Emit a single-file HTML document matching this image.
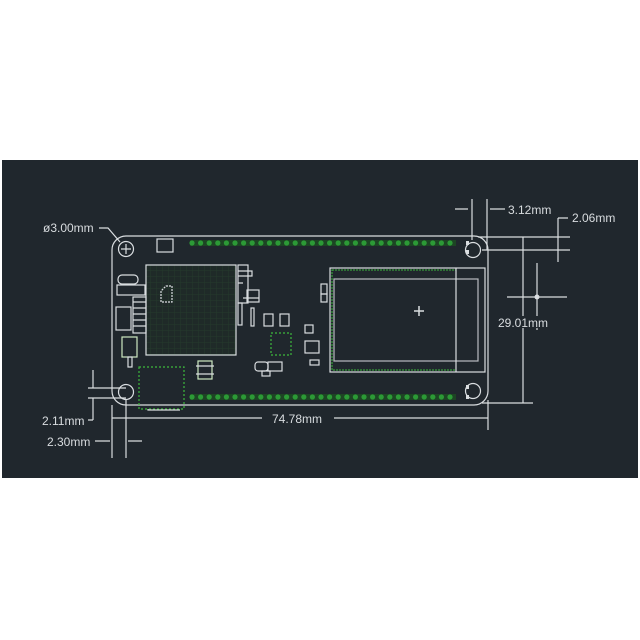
<!DOCTYPE html>
<html><head><style>
html,body{margin:0;padding:0;background:#fff;}
svg{display:block}
text{font-family:"Liberation Sans",sans-serif;font-size:12px;fill:#d8dcdf;}
</style></head><body>
<svg width="640" height="640" viewBox="0 0 640 640">
<rect x="0" y="0" width="640" height="640" fill="#fff"/>
<rect x="2" y="160" width="636" height="318" fill="#20272d"/>
<defs>
<pattern id="g" width="6" height="6" patternUnits="userSpaceOnUse"><rect width="6" height="6" fill="#1f2a28"/><path d="M0 0H6M0 0V6" stroke="#243a2c" stroke-width="1"/></pattern>
</defs>
<g stroke="#d9dde0" stroke-width="1.2" fill="none">
<path d="M126 236 H474 A14 14 0 0 1 488 250 V391 A14 14 0 0 1 474 405 H126 A14 14 0 0 1 112 391 V250 A14 14 0 0 1 126 236 Z"/>
<circle cx="126" cy="249" r="7.5"/><path d="M121 249h10M126 244v10"/>
<circle cx="126" cy="392" r="7.5"/>
<circle cx="473" cy="250" r="7.5"/>
<circle cx="473" cy="391" r="7.5"/>
<rect x="157" y="239" width="16" height="13"/>
<rect x="146" y="265" width="90" height="90" fill="url(#g)"/>
<path d="M166 286 h6 v16 h-11 v-11 z" stroke-dasharray="2 1"/>
<rect x="118" y="275" width="20" height="9" rx="4"/>
<rect x="117" y="285" width="28" height="10"/>
<rect x="116" y="307" width="15" height="23"/>
<rect x="133" y="297" width="13" height="36"/>
<path d="M133 302h13M133 308h13M133 314h13M133 320h13M133 326h13"/>
<rect x="122" y="337" width="15" height="20" stroke="#cde8c0"/>
<rect x="128" y="357" width="4" height="10"/>
<rect x="238" y="265" width="10" height="38"/>
<path d="M238 271h14v5h-14M238 283h5M243 298h16"/>
<rect x="238" y="303" width="4" height="22"/>
<rect x="247" y="290" width="12" height="12"/>
<rect x="251" y="308" width="3" height="18"/>
<rect x="264" y="314" width="9" height="12"/>
<rect x="280" y="314" width="9" height="12"/>
<rect x="271" y="333" width="20" height="22" stroke="#3db83d" stroke-dasharray="2 2"/>
<rect x="255" y="362" width="13" height="9" rx="3"/>
<rect x="268" y="362" width="14" height="9"/>
<rect x="262" y="371" width="8" height="5"/>
<rect x="198" y="361" width="14" height="18" stroke="#cde8c0"/>
<path d="M196 366h18M196 374h18"/>
<rect x="305" y="325" width="8" height="8"/>
<rect x="305" y="341" width="14" height="12"/>
<rect x="310" y="360" width="9" height="5"/>
<rect x="321" y="284" width="6" height="10"/>
<rect x="321" y="294" width="6" height="8"/>
<rect x="139" y="367" width="45" height="42" stroke="#3db83d" stroke-dasharray="2 2"/>
<path d="M148 409 V410 H180"/>
<rect x="330" y="268" width="155" height="104"/>
<rect x="332" y="270" width="124" height="100" stroke="#3db83d" stroke-dasharray="2 1" stroke-width="1"/>
<rect x="334" y="279" width="144" height="82" stroke="#b9bcc0"/>
<path d="M456 268 V372"/>
<path d="M414 311h10M419 306v10" stroke-width="1.5"/>
<path d="M112 405 V458 M126 400 V458 M488 400 V430 M112 418 H488"/>
<path d="M472 199 V240 M487 199 V250 M455 209 H468 M490 209 H505"/>
<path d="M478 237 H570 M482 250 H570 M523 237 V403 M482 403 H533"/>
<path d="M558 218 V262 M558 218 H568"/>
<path d="M507 297 H567 M537 263 V330"/>
<path d="M88 388 H126 M88 398 H126 M93 370 V388 M93 398 V420 M88 420 H93"/>
<path d="M95 441 H110 M128 441 H142"/>
<path d="M99 228 H108 L120 242"/>
</g>
<circle cx="537" cy="297" r="2.5" fill="#d9dde0"/>
<rect x="505" y="316" width="40" height="12" fill="#20272d"/>
<rect x="262" y="412" width="72" height="12" fill="#20272d"/>
<g>
<rect x="190" y="240" width="266" height="6" fill="#1d4524"/>
<rect x="190" y="394" width="266" height="6" fill="#1d4524"/>
</g>
<g fill="#2c9a36" id="pins"></g>
<g fill="#d9dde0">
<rect x="466" y="241" width="3" height="4"/><rect x="466" y="395" width="3" height="4"/>
<rect x="466" y="385" width="3" height="4"/><rect x="466" y="250" width="3" height="4"/>
</g>
<text x="43" y="232">ø3.00mm</text>
<text x="508" y="214">3.12mm</text>
<text x="572" y="222">2.06mm</text>
<text x="498" y="327">29.01mm</text>
<text x="272" y="423">74.78mm</text>
<text x="42" y="425">2.11mm</text>
<text x="47" y="446">2.30mm</text>
</svg>
<script>
var g=document.getElementById('pins'),s='';
for(var i=0;i<31;i++){var x=192+i*8.6;s+='<circle cx="'+x+'" cy="243" r="2.6"/><circle cx="'+x+'" cy="397" r="2.6"/>';}
g.innerHTML=s;
</script>
</body></html>
